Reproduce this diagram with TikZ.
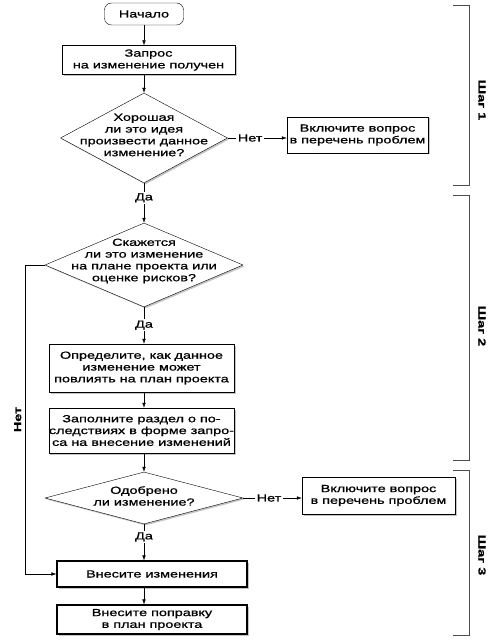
\documentclass[tikz,border=0pt]{standalone}
\usepackage{fontspec}
\setmainfont{Liberation Sans}[FakeStretch=1.4, FakeBold=0.9]
\usetikzlibrary{shapes.geometric, shadows, arrows.meta}

\begin{document}
\begin{tikzpicture}[x=1pt, y=-1pt, >={Latex[length=5pt, width=3.5pt]},
  every node/.style={font=\fontsize{10.3}{11.8}\selectfont, align=center},
  shade/.style={drop shadow={shadow xshift=1.5pt, shadow yshift=-1.5pt, fill=black!45}},
  startbox/.style={draw, rounded corners=7pt, inner sep=0pt, fill=white},
  block/.style={draw, fill=white, inner sep=0pt, shade},
  heavy/.style={block, line width=1.1pt},
  decision/.style={draw, shape=diamond, fill=white, inner sep=0pt, shade},
  lab/.style={fill=white, inner sep=1.5pt},
  steplab/.style={rotate=-90, font=\fontsize{10.3}{12}\selectfont\bfseries}]

  \useasboundingbox (0,0) rectangle (495,644);

  % Flow
  \node[startbox, minimum width=79pt, minimum height=22pt] (start) at (144,14) {Начало};
  \node[block, minimum width=173pt, minimum height=29pt] (req) at (148.5,60) {Запрос\\на изменение получен};
  \node[decision, minimum width=167pt, minimum height=90pt,
    label={[yshift=3pt]center:{Хорошая\\ли это идея\\произвести данное\\изменение?}}] (good) at (144,138) {};
  \node[block, minimum width=141pt, minimum height=36pt] (prob1) at (357.5,135) {Включите вопрос\\в перечень проблем};

  \node[decision, minimum width=198pt, minimum height=84pt,
    label={[yshift=4pt]center:{Скажется\\ли это изменение\\на плане проекта или\\оценке рисков?}}] (affects) at (144,265) {};
  \node[block, minimum width=185pt, minimum height=48pt] (impact) at (141.5,368) {Определите, как данное\\изменение может\\повлиять на план проекта};
  \node[block, minimum width=185pt, minimum height=45pt] (conseq) at (141.5,430.5) {Заполните раздел о по-\\следствиях в форме запро-\\са на внесение изменений};

  \node[decision, minimum width=198pt, minimum height=52pt,
    label={[yshift=2pt]center:{Одобрено\\ли изменение?}}] (approved) at (144,498) {};
  \node[block, minimum width=153pt, minimum height=37pt] (prob2) at (378.5,495.5) {Включите вопрос\\в перечень проблем};
  \node[heavy, minimum width=190pt, minimum height=26pt] (apply) at (152,574) {Внесите изменения};
  \node[heavy, minimum width=190pt, minimum height=29pt] (update) at (152,619.5) {Внесите поправку\\в план проекта};

  % Straight
  \draw[->] (start) -- (start |- req.north);
  \draw[->] (req.south -| good) -- (good);
  \draw[->] (good) -- node[lab, pos=0.37] {Да} (affects);
  \draw[->] (affects) -- node[lab, pos=0.49] {Да} (affects |- impact.north);
  \draw[->] (impact.south -| affects) -- (affects |- conseq.north);
  \draw[->] (conseq.south -| approved) -- (approved);
  \draw[->] (approved) -- node[lab, pos=0.35] {Да} (approved |- apply.north);
  \draw[->] (apply.south -| approved) -- (approved |- update.north);

  % Side
  \draw[->] (good.east) -- node[lab, pos=0.38] {Нет} (good.east -| prob1.west);
  \draw[->] (approved.east) -- node[lab, pos=0.44] {Нет} (approved.east -| prob2.west);
  \draw[->] (affects.west) -- ++(-20,0) |- node[pos=0.25, rotate=90, anchor=south, font=\fontsize{10.3}{12}\selectfont\bfseries] {Нет} (apply.west);

  % Steps
  \draw[black!70] (453,5) -- (469,5) -- (469,185) -- (453,185);
  \node[steplab] (step1) at (482,100) {Шаг 1};
  \draw[black!70] (453,195) -- (469,195) -- (469,460) -- (453,460);
  \node[steplab] (step2) at (482,326) {Шаг 2};
  \draw[black!70] (453,470) -- (469,470) -- (469,635) -- (453,635);
  \node[steplab] (step3) at (482,555) {Шаг 3};

\end{tikzpicture}
\end{document}
